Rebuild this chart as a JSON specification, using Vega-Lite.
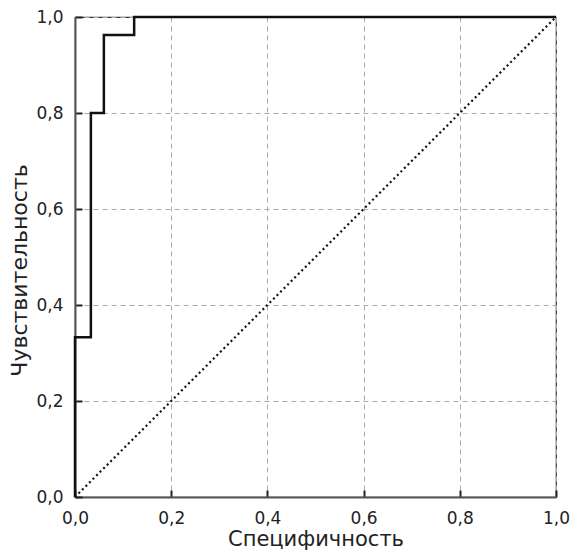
{
  "$schema": "https://vega.github.io/schema/vega-lite/v6.json",
  "width": 481,
  "height": 480,
  "autosize": {"type": "none"},
  "padding": {"left": 75, "top": 17, "right": 18, "bottom": 54},
  "background": "white",
  "config": {
    "font": "DejaVu Sans",
    "view": {"stroke": "#333333", "strokeWidth": 1.2},
    "axis": {
      "labelFont": "DejaVu Sans",
      "titleFont": "DejaVu Sans",
      "labelFontSize": 17,
      "titleFontSize": 21,
      "labelColor": "#222222",
      "titleColor": "#222222",
      "titleFontWeight": "normal",
      "labelFlush": false,
      "domainColor": "#555555",
      "domainWidth": 2,
      "tickColor": "#222222",
      "tickWidth": 2,
      "gridColor": "#aaaaaa",
      "gridDash": [5, 4],
      "gridWidth": 1
    }
  },
  "datasets": {
    "roc": [
      {"o": 0, "spec": 0, "sens": 0},
      {"o": 1, "spec": 0, "sens": 0.333},
      {"o": 2, "spec": 0.033, "sens": 0.333},
      {"o": 3, "spec": 0.033, "sens": 0.8},
      {"o": 4, "spec": 0.06, "sens": 0.8},
      {"o": 5, "spec": 0.06, "sens": 0.9625},
      {"o": 6, "spec": 0.123, "sens": 0.9625},
      {"o": 7, "spec": 0.123, "sens": 1},
      {"o": 8, "spec": 1, "sens": 1}
    ],
    "diag": [
      {"o": 0, "spec": 0, "sens": 0},
      {"o": 1, "spec": 1, "sens": 1}
    ]
  },
  "layer": [
    {
      "data": {"name": "diag"},
      "mark": {"type": "line", "color": "#111111", "strokeWidth": 2.2, "strokeDash": [2, 3]},
      "encoding": {
        "x": {
          "field": "spec", "type": "quantitative",
          "scale": {"domain": [0, 1], "nice": false},
          "axis": {
            "title": "Специфичность",
            "values": [0, 0.2, 0.4, 0.6, 0.8, 1],
            "labelExpr": "replace(format(datum.value, '.1f'), '.', ',')",
            "tickSize": -7,
            "labelPadding": 20,
            "titlePadding": 2
          }
        },
        "y": {
          "field": "sens", "type": "quantitative",
          "scale": {"domain": [0, 1], "nice": false},
          "axis": {
            "title": "Чувствительность",
            "titleFontSize": 22,
            "titleY": 253,
            "values": [0, 0.2, 0.4, 0.6, 0.8, 1],
            "labelExpr": "replace(format(datum.value, '.1f'), '.', ',')",
            "tickSize": -7,
            "labelPadding": 19,
            "titlePadding": 4
          }
        },
        "order": {"field": "o"}
      }
    },
    {
      "data": {"name": "roc"},
      "mark": {"type": "line", "color": "#111111", "strokeWidth": 2.5},
      "encoding": {
        "x": {"field": "spec", "type": "quantitative"},
        "y": {"field": "sens", "type": "quantitative"},
        "order": {"field": "o"}
      }
    }
  ]
}
